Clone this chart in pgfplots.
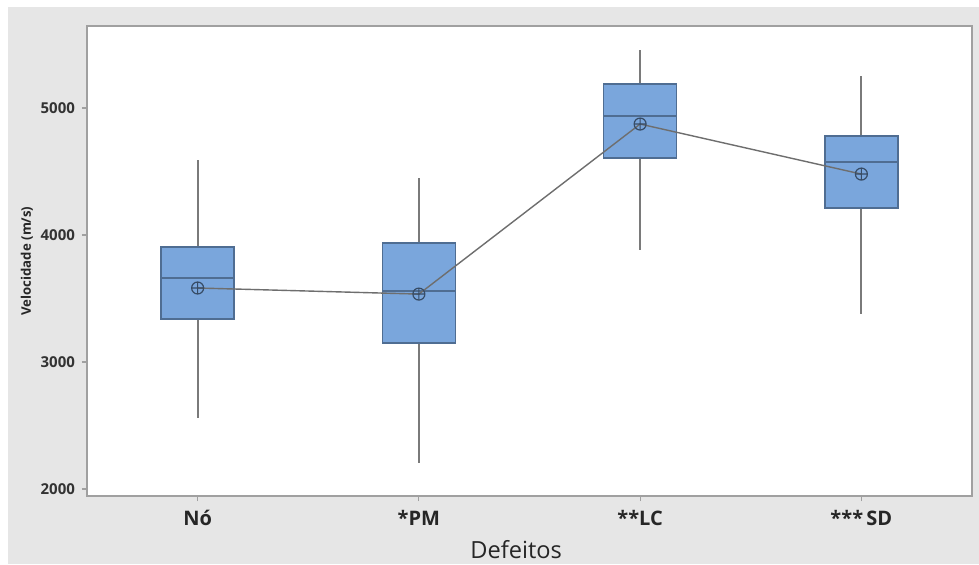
\documentclass[border=0pt]{standalone}
\usepackage{pgfplots}
\pgfplotsset{compat=1.18}
\usepgfplotslibrary{statistics}
\usepackage{fontspec}
\setmainfont{Open Sans}
\definecolor{bg}{HTML}{E6E6E6}
\definecolor{boxfill}{HTML}{7AA6DC}
\definecolor{boxedge}{HTML}{4F6D92}
\definecolor{wisk}{HTML}{7A7A7A}
\definecolor{frame}{HTML}{A0A0A0}
\begin{document}
\begin{tikzpicture}[x=1pt,y=1pt]
\path[fill=white] (-43.5,-34) rectangle (446,248);
\fill[bg] (-39.5,-34) rectangle (446,244.5);
\begin{axis}[
  at={(0,0)}, anchor=south west,
  scale only axis, width=442.5pt, height=235pt,
  axis background/.style={fill=white},
  axis line style={frame, line width=0.8pt},
  xmin=-0.5, xmax=3.5, ymin=1945, ymax=5646,
  xtick={0,1,2,3},
  xticklabels={Nó,*PM,**LC,***\,SD},
  ytick={2000,3000,4000,5000},
  tick pos=left, tick align=outside,
  major tick length=2.5pt,
  tick style={frame, line width=0.6pt},
  /pgf/number format/1000 sep={},
  /pgf/number format/assume math mode=true,
  yticklabel style={font=\fontsize{7.5}{9}\selectfont\bfseries, text=black!80},
  xticklabel style={font=\fontsize{10}{12}\selectfont\bfseries, text=black!85, yshift=-1pt},
  xlabel={Defeitos},
  xlabel style={font=\fontsize{11.8}{14}\selectfont, text=black!85, at={(axis description cs:0.485,-0.113)}, anchor=center},
  ylabel={Velocidade (m/s)},
  ylabel style={font=\fontsize{6.6}{8}\selectfont\bfseries, text=black!85, yshift=-3pt},
  clip=false,
  boxplot/draw direction=y,
  boxplot/box extend=0.33,
  boxplot/whisker extend=0,
  boxplot/every box/.style={draw=boxedge, fill=boxfill, line width=0.8pt},
  boxplot/every median/.style={draw=boxedge, line width=0.8pt},
  boxplot/every whisker/.style={draw=wisk, line width=0.9pt},
]
\addplot+[mark=none, boxplot prepared={draw position=0, lower whisker=2559, lower quartile=3339, median=3661, upper quartile=3906, upper whisker=4591}] coordinates {};
\addplot+[mark=none, boxplot prepared={draw position=1, lower whisker=2205, lower quartile=3150, median=3559, upper quartile=3937, upper whisker=4449}] coordinates {};
\addplot+[mark=none, boxplot prepared={draw position=2, lower whisker=3882, lower quartile=4606, median=4937, upper quartile=5189, upper whisker=5457}] coordinates {};
\addplot+[mark=none, boxplot prepared={draw position=3, lower whisker=3378, lower quartile=4213, median=4575, upper quartile=4780, upper whisker=5252}] coordinates {};
\addplot[color=wisk!90!black, line width=0.7pt, mark=oplus, mark size=3pt, mark options={draw=boxedge!70!black, line width=0.6pt, fill=none}] coordinates {(0,3583) (1,3535) (2,4874) (3,4480)};
\end{axis}
\end{tikzpicture}
\end{document}
